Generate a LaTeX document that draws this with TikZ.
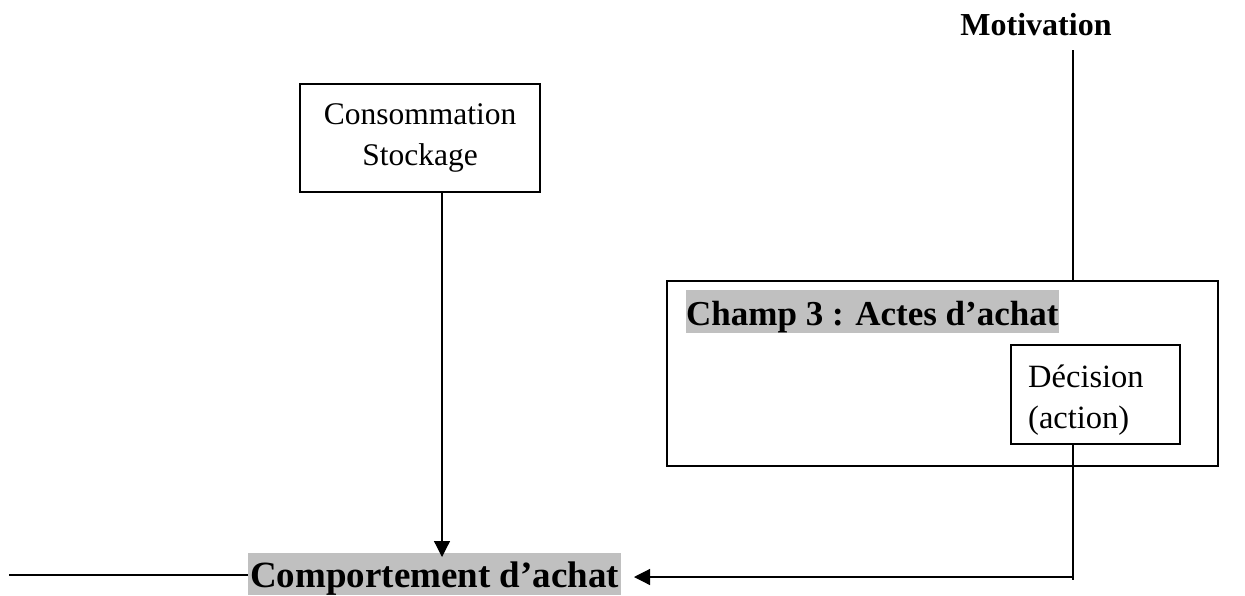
\documentclass[tikz,border=0pt]{standalone}
\usepackage{fontspec}
\setmainfont{Liberation Serif}
\usetikzlibrary{arrows.meta}
\definecolor{hl}{RGB}{192,192,192}
\tikzset{
  frame/.style={draw=black, line width=1.2pt, inner sep=0pt},
  plain/.style={font=\fontsize{31.5}{41}\selectfont, align=center},
  declabel/.style={font=\fontsize{32.5}{40}\selectfont, inner sep=0pt, anchor=base west},
  hlbox/.style={fill=hl, inner xsep=0pt, inner ysep=0pt, font=\bfseries},
  link/.style={draw=black, line width=1.2pt},
  arrowlink/.style={link, -{Triangle[length=16pt,width=16pt]}}
}
\begin{document}
\begin{tikzpicture}[x=1pt,y=-1pt]
\useasboundingbox (0,0) rectangle (1245,595);

% title at the top right
\node[font=\bfseries\fontsize{32}{38}\selectfont, anchor=base, inner sep=0pt] (mot) at (1036,35) {Motivation};

% storage box
\node[frame, plain, minimum width=240pt, minimum height=108pt] (cons) at (420,138)
  {Consommation\\Stockage};

% field 3 and its decision box
\node[frame, minimum width=551pt, minimum height=185pt] (champ) at (942.5,373.5) {};
\node[hlbox, font=\bfseries\fontsize{35}{40}\selectfont, text height=35pt, text depth=8pt,
      minimum width=365pt, anchor=north west] (champlbl) at (686,290)
  {Champ 3 : Actes d’achat};
\node[frame, minimum width=169pt, minimum height=99pt] (dec) at (1095.5,394.5) {};
\node[declabel] (decl1) at (1028,387) {Décision};
\node[declabel] (decl2) at (1028,428) {(action)};

% buying behaviour
\node[hlbox, font=\bfseries\fontsize{37}{42}\selectfont, text height=34pt, text depth=8pt,
      minimum width=373pt, anchor=north west] (comp) at (248,553)
  {Comportement d’achat};

% connectors
\coordinate (mtop) at (1073,50);
\draw[link] (mtop) -- (mtop |- champ.north);

\coordinate (tipA) at (442,557);
\draw[arrowlink] (tipA |- cons.south) -- (tipA);

\coordinate (turn) at (1073,577);
\coordinate (tipB) at (634,577);
\draw[link] (turn |- dec.south) -- ([yshift=-3pt]turn);
\draw[arrowlink] (turn) -- (tipB);

\coordinate (lstart) at (9,575);
\draw[link] (lstart) -- (lstart -| comp.west);
\end{tikzpicture}
\end{document}
